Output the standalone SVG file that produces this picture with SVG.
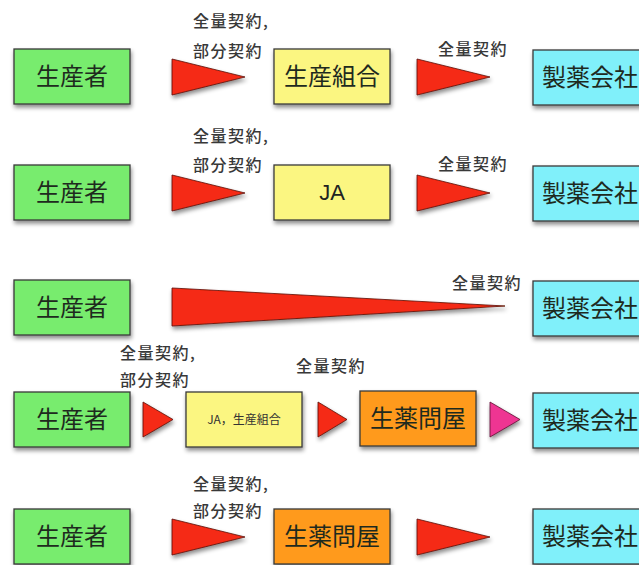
<svg xmlns="http://www.w3.org/2000/svg" width="639" height="565" viewBox="0 0 639 565">
<defs>
<filter id="sh" x="-10%" y="-10%" width="130%" height="140%">
<feDropShadow dx="1" dy="3" stdDeviation="2" flood-color="#000" flood-opacity="0.45"/>
</filter>
<style>
.box{stroke:#3a3a3a;stroke-width:1.3;filter:url(#sh)}
.g{fill:#78ec6e}.y{fill:#fbf681}.c{fill:#80f0fa}.o{fill:#ff9a1c}
.tri{fill:#f52a12;stroke:#5a1008;stroke-width:0.8;filter:url(#sh)}
.pk{fill:#ee3592;stroke:#5a1030;stroke-width:0.8;filter:url(#sh)}
.t{font-family:"Noto Sans CJK JP","Liberation Sans",sans-serif;font-size:24px;fill:#1e2a1e;text-anchor:middle}
.ja{font-family:"Liberation Sans","Noto Sans CJK JP",sans-serif;font-size:22px;fill:#222;text-anchor:middle}
.s{font-family:"Noto Sans CJK JP","Liberation Sans",sans-serif;font-size:12px;fill:#333;text-anchor:middle}
.l{font-family:"Noto Sans CJK JP","Liberation Sans",sans-serif;font-size:16px;font-weight:500;fill:#383838;letter-spacing:1.5px}
</style>
</defs>
<rect width="639" height="565" fill="#fff"/>

<g id="connectors">
<polygon class="tri" points="172,59 172,95 245,77"/>
<polygon class="tri" points="417,59 417,95 490,77"/>
<polygon class="tri" points="172,175 172,211 245,193"/>
<polygon class="tri" points="417,175 417,211 490,193"/>
<polygon class="tri" points="172,288 172,326 505,306"/>
<polygon class="tri" points="143,402 143,437 173,419.5"/>
<polygon class="tri" points="318,402 318,437 347,419.5"/>
<polygon class="pk" points="490,402 490,437 520,419.5"/>
<polygon class="tri" points="172,519 172,555 245,537"/>
<polygon class="tri" points="417,519 417,555 490,537"/>
</g>

<g id="labels">
<text class="l" x="193" y="27">全量契約,</text>
<text class="l" x="193" y="57">部分契約</text>
<text class="l" x="438" y="55">全量契約</text>
<text class="l" x="193" y="142">全量契約,</text>
<text class="l" x="193" y="171">部分契約</text>
<text class="l" x="438" y="170">全量契約</text>
<text class="l" x="452" y="289">全量契約</text>
<text class="l" x="120" y="359">全量契約,</text>
<text class="l" x="120" y="386">部分契約</text>
<text class="l" x="296" y="372">全量契約</text>
<text class="l" x="193" y="490">全量契約,</text>
<text class="l" x="193" y="517">部分契約</text>
</g>

<g id="r1-producer"><rect class="box g" x="14" y="49" width="116" height="55"/><text class="t" x="72" y="85">生産者</text></g>
<g id="r1-union"><rect class="box y" x="274" y="49" width="116" height="55"/><text class="t" x="332" y="85">生産組合</text></g>
<g id="r1-pharma"><rect class="box c" x="533" y="50" width="116" height="55"/><text class="t" x="590" y="86">製薬会社</text></g>

<g id="r2-producer"><rect class="box g" x="14" y="165" width="116" height="55"/><text class="t" x="72" y="201">生産者</text></g>
<g id="r2-ja"><rect class="box y" x="274" y="165" width="116" height="55"/><text class="ja" x="332" y="200">JA</text></g>
<g id="r2-pharma"><rect class="box c" x="533" y="166" width="116" height="55"/><text class="t" x="590" y="202">製薬会社</text></g>

<g id="r3-producer"><rect class="box g" x="14" y="280" width="116" height="55"/><text class="t" x="72" y="316">生産者</text></g>
<g id="r3-pharma"><rect class="box c" x="533" y="281" width="116" height="55"/><text class="t" x="590" y="317">製薬会社</text></g>

<g id="r4-producer"><rect class="box g" x="14" y="392" width="116" height="55"/><text class="t" x="72" y="428">生産者</text></g>
<g id="r4-ja-union"><rect class="box y" x="186" y="392" width="116" height="55"/><text class="s" x="244" y="424">JA，生産組合</text></g>
<g id="r4-wholesaler"><rect class="box o" x="360" y="391" width="116" height="55"/><text class="t" x="418" y="427">生薬問屋</text></g>
<g id="r4-pharma"><rect class="box c" x="533" y="393" width="116" height="55"/><text class="t" x="590" y="429">製薬会社</text></g>

<g id="r5-producer"><rect class="box g" x="14" y="509" width="116" height="55"/><text class="t" x="72" y="545">生産者</text></g>
<g id="r5-wholesaler"><rect class="box o" x="274" y="509" width="116" height="55"/><text class="t" x="332" y="545">生薬問屋</text></g>
<g id="r5-pharma"><rect class="box c" x="533" y="509" width="116" height="55"/><text class="t" x="590" y="545">製薬会社</text></g>
</svg>
